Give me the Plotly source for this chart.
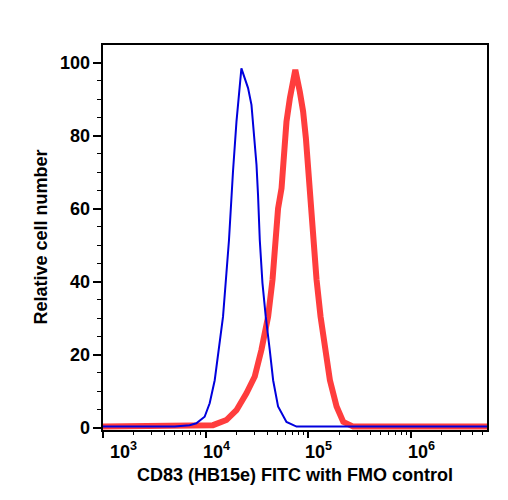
import math
import plotly.graph_objects as go

# FMO control (blue) histogram: fluorescence intensity vs relative cell number
fmo_x = [1000, 5000, 6980, 8110, 9770, 10940, 12250, 13490, 14760, 15920, 16870,
         18450, 19950, 22280, 25880, 27930, 28910, 31260, 32360, 33650, 35730,
         38460, 42070, 45390, 50700, 61240, 76740, 5500000]
fmo_y = [0.3, 0.3, 0.7, 1.2, 3.0, 6.7, 13.0, 21.3, 30.4, 42.3, 51.4,
         70.1, 83.8, 98.4, 93.0, 88.4, 83.8, 72.0, 63.7, 51.4, 39.6,
         30.4, 21.3, 13.0, 5.8, 1.6, 0.3, 0.3]

# CD83 FITC stained (red) histogram
cd83_x = [1000, 8730, 11780, 15920, 19950, 24950, 30060, 34910, 40550, 44770,
          48190, 50700, 54830, 58070, 61240, 66070, 74650, 82600, 88920, 94620,
          99540, 104950, 111430, 120230, 131520, 144880, 162180, 188360, 218780,
          273530, 5500000]
cd83_y = [0.3, 0.3, 0.7, 2.1, 4.8, 9.4, 14.0, 21.3, 30.4, 40.5,
          51.0, 60.0, 65.6, 74.7, 83.8, 90.2, 98.0, 92.0, 86.6, 79.3,
          70.0, 63.0, 51.4, 40.5, 30.4, 21.3, 13.0, 5.8, 1.6,
          0.3, 0.3]

x_tickvals = [1e3, 1e4, 1e5, 1e6]
x_ticktext = ["10<sup>3</sup>", "10<sup>4</sup>", "10<sup>5</sup>", "10<sup>6</sup>"]
y_tickvals = [0, 20, 40, 60, 80, 100]
y_ticktext = ["0", "20", "40", "60", "80", "100"]
x_title = "CD83 (HB15e) FITC with FMO control"
y_title = "Relative cell number"

FONT = "Liberation Sans, Arial, Helvetica, sans-serif"
LABEL_FONT = dict(size=18, family=FONT, color="black")

fig = go.Figure()
fig.add_trace(go.Scatter(x=cd83_x, y=cd83_y, mode="lines",
                         line=dict(color="#FF3333", width=6), opacity=0.95,
                         showlegend=False, hoverinfo="skip"))
fig.add_trace(go.Scatter(x=fmo_x, y=fmo_y, mode="lines",
                         line=dict(color="#0000DD", width=2),
                         showlegend=False, hoverinfo="skip"))

fig.update_layout(
    width=508, height=500,
    margin=dict(l=103, r=21, t=45, b=70),
    paper_bgcolor="white", plot_bgcolor="white",
    font=dict(family=FONT, color="black", size=18),
    xaxis=dict(
        type="log", range=[3.0, 6.74],
        tickmode="array", tickvals=x_tickvals, showticklabels=False,
        ticks="outside", ticklen=6, tickwidth=2, tickcolor="black",
        showline=True, linecolor="black", linewidth=2, mirror=True,
        showgrid=False, zeroline=False,
        minor=dict(ticks="outside", ticklen=3, tickwidth=1, tickcolor="black",
                   dtick="D1", showgrid=False),
    ),
    yaxis=dict(
        range=[-0.63, 104.8],
        tickmode="array", tickvals=y_tickvals, showticklabels=False,
        ticks="outside", ticklen=8, tickwidth=2, tickcolor="black",
        showline=True, linecolor="black", linewidth=2, mirror=True,
        showgrid=False, zeroline=False,
        minor=dict(ticks="outside", ticklen=4, tickwidth=1, tickcolor="black",
                   dtick=5, showgrid=False),
    ),
)

# tick labels placed at the axis' own data coordinates
for i, (v, t) in enumerate(zip(x_tickvals, x_ticktext)):
    fig.add_annotation(x=math.log10(v), xref="x", y=0, yref="paper",
                       text="<b>" + t + "</b>", showarrow=False, font=LABEL_FONT,
                       xanchor="left", yanchor="top",
                       xshift=(5 if i == 0 else -5), yshift=-7)
for v, t in zip(y_tickvals, y_ticktext):
    fig.add_annotation(x=0, xref="paper", y=v, yref="y",
                       text="<b>" + t + "</b>", showarrow=False, font=LABEL_FONT,
                       xanchor="right", yanchor="middle", xshift=-11)

# axis titles
fig.add_annotation(x=0.5, xref="paper", y=0, yref="paper", text="<b>" + x_title + "</b>",
                   showarrow=False, font=LABEL_FONT, xanchor="center", yanchor="middle",
                   yshift=-45)
fig.add_annotation(x=0, xref="paper", y=0.5, yref="paper", text="<b>" + y_title + "</b>",
                   showarrow=False, font=LABEL_FONT, textangle=-90,
                   xanchor="center", yanchor="middle", xshift=-63)

fig.write_html("out.html")
